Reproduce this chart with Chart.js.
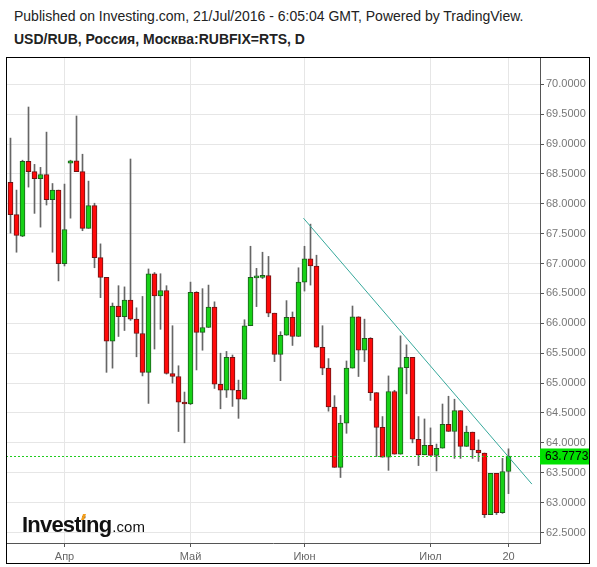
<!DOCTYPE html>
<html>
<head>
<meta charset="utf-8">
<script src="https://cdn.jsdelivr.net/npm/chart.js@4.4.1/dist/chart.umd.min.js"></script>
<style>
  html, body { margin: 0; padding: 0; background: #fff; }
  #wrap { position: relative; width: 597px; height: 567px; }
  .hdr { position: absolute; left: 14px; font-family: Arial, "Liberation Sans", sans-serif;
         font-size: 14px; color: #222; white-space: nowrap; }
  #h1 { top: 8px; }
  #h2 { top: 31px; font-weight: bold; }
  canvas { position: absolute; left: 0; top: 0; }
</style>
</head>
<body>
<div id="wrap">
  <div class="hdr" id="h1">Published on Investing.com, 21/Jul/2016 - 6:05:04 GMT, Powered by TradingView.</div>
  <div class="hdr" id="h2">USD/RUB, Россия, Москва:RUBFIX=RTS, D</div>
  <canvas id="c" width="597" height="567"></canvas>
</div>
<script>
// ── Данные: торговые дни 21 мар – 20 июл 2016 ───────────────────
const openP = [
  68.36, 67.82, 67.46, 68.71, 68.54, 68.42, 68.49, 68.07, 68.23, 67.00,
  68.68, 68.72, 68.54, 67.59, 67.97, 67.10, 66.77, 65.70, 66.29, 66.11,
  66.39, 66.07, 65.83, 65.18, 66.83, 66.46, 66.55, 65.16, 65.11, 64.68,
  64.65, 66.52, 65.85, 65.93, 66.27, 64.98, 64.88, 65.43, 64.88, 64.73,
  65.96, 66.76, 66.77, 66.80, 66.17, 65.48, 65.80, 66.10, 65.78, 66.69,
  67.08, 66.96, 65.60, 65.25, 64.60, 63.59, 64.33, 65.25, 66.11, 65.55,
  65.75, 64.84, 64.26, 63.76, 64.86, 63.81, 65.26, 65.43, 64.06, 63.80,
  63.96, 63.79, 63.91, 64.31, 64.19, 64.54, 63.94, 64.18, 63.88, 63.83,
  62.80, 63.49, 62.83, 63.52
];
const highP = [
  69.10, 68.23, 68.73, 69.62, 68.66, 68.61, 69.20, 68.34, 68.23, 68.33,
  68.73, 69.47, 68.83, 68.38, 68.01, 67.33, 66.77, 66.34, 66.63, 66.61,
  68.75, 66.26, 66.45, 66.91, 66.85, 66.83, 66.63, 65.96, 65.29, 64.85,
  66.69, 66.53, 66.58, 66.64, 66.36, 65.50, 65.53, 65.47, 65.05, 66.06,
  67.29, 66.92, 67.19, 67.12, 66.17, 65.86, 66.38, 66.19, 66.93, 67.29,
  67.66, 67.14, 65.96, 65.41, 64.79, 64.46, 65.37, 66.29, 66.11, 66.07,
  65.76, 64.84, 64.44, 65.12, 64.88, 65.79, 65.64, 65.43, 64.44, 64.40,
  64.25, 63.98, 64.65, 64.78, 64.73, 64.54, 64.28, 64.18, 64.05, 63.83,
  63.49, 63.49, 63.74, 63.90
];
const lowP = [
  67.51, 67.19, 67.45, 68.28, 67.84, 67.61, 67.98, 67.19, 66.71, 66.96,
  67.76, 68.54, 67.55, 67.59, 66.93, 66.43, 65.18, 65.25, 65.78, 65.88,
  66.05, 65.44, 65.12, 64.66, 65.57, 65.90, 65.15, 65.00, 64.19, 64.00,
  64.64, 65.22, 65.55, 65.93, 64.91, 64.57, 64.76, 64.61, 64.41, 64.73,
  65.96, 66.28, 66.75, 66.11, 65.36, 65.04, 65.80, 65.63, 65.78, 66.54,
  66.64, 65.60, 65.14, 64.53, 63.59, 63.42, 64.16, 65.25, 65.11, 65.36,
  64.71, 63.77, 63.76, 63.54, 63.81, 63.81, 64.82, 64.00, 63.62, 63.80,
  63.79, 63.53, 63.91, 64.19, 63.74, 63.74, 63.94, 63.74, 63.69, 62.75,
  62.80, 62.80, 62.82, 63.15
];
const closeP = [
  67.82, 67.47, 68.71, 68.54, 68.42, 68.49, 68.07, 68.23, 67.00, 67.57,
  68.72, 68.54, 67.59, 67.97, 67.10, 66.77, 65.70, 66.29, 66.11, 66.39,
  66.07, 65.83, 65.18, 66.83, 66.46, 66.55, 65.16, 65.11, 64.68, 64.65,
  66.52, 65.85, 65.93, 66.27, 64.98, 64.88, 65.43, 64.88, 64.73, 65.96,
  66.77, 66.77, 66.80, 66.17, 65.48, 65.80, 66.10, 65.78, 66.69, 67.08,
  66.96, 65.60, 65.25, 64.60, 63.59, 64.33, 65.25, 66.11, 65.55, 65.75,
  64.84, 64.26, 63.76, 64.86, 63.81, 65.26, 65.43, 64.06, 63.80, 63.96,
  63.79, 63.91, 64.31, 64.19, 64.54, 63.94, 64.18, 63.88, 63.83, 62.80,
  63.49, 62.83, 63.52, 63.7773
];

// подписи оси X (индекс торгового дня → текст)
const xTickIdx    = [9, 30, 49, 70, 83];
const xTickLabels = ["Апр", "Май", "Июн", "Июл", "20"];
const yTicks      = [62.5, 63, 63.5, 64, 64.5, 65, 65.5, 66, 66.5, 67, 67.5, 68, 68.5, 69, 69.5, 70];

// линия тренда (индекс дня, цена)
const trendX = [48.83, 86.9];
const trendY = [67.76, 63.31];

const lastPrice = closeP[closeP.length - 1];

// ── Цвета ────────────────────────────────────────────────────────
const UP_FILL   = "#17d117";
const UP_EDGE   = "#1d5e1d";
const DN_FILL   = "#ff0a0a";
const DN_EDGE   = "#6e1414";
const WICK      = "#666666";
const GRID      = "#e6e6e6";
const FONT      = "Arial, 'Liberation Sans', sans-serif";

const isUp   = closeP.map((c, i) => c >= openP[i]);
const bodies = closeP.map((c, i) => ({ x: i, y: [openP[i], c] }));
const wicks  = highP.map((h, i) => ({ x: i, y: [lowP[i], h] }));
const trend  = trendX.map((x, i) => ({ x, y: trendY[i] }));

// ── Плагин: рамка, логотип, текущая цена ────────────────────────
const decor = {
  id: "decor",
  beforeDatasetsDraw(chart) {
    const ctx = chart.ctx;
    ctx.save();
    ctx.fillStyle = "#111";
    ctx.textBaseline = "alphabetic";
    ctx.font = "bold 22px " + FONT;
    ctx.letterSpacing = "-0.8px";
    ctx.fillText("Investing", 22, 532);
    const w = ctx.measureText("Investing").width;
    ctx.letterSpacing = "0px";
    ctx.font = "15px " + FONT;
    ctx.fillText(".com", 22 + w + 1, 532);
    ctx.fillStyle = "#f29d1b";
    ctx.beginPath();
    ctx.moveTo(81, 520); ctx.lineTo(84, 520); ctx.lineTo(86, 514); ctx.lineTo(83, 514);
    ctx.closePath();
    ctx.fill();
    ctx.restore();
  },
  afterDatasetsDraw(chart) {
    const ctx = chart.ctx;
    const a = chart.chartArea;
    const y = Math.round(chart.scales.y.getPixelForValue(lastPrice)) + 0.5;
    ctx.save();
    ctx.strokeStyle = "#1fcc1f";
    ctx.lineWidth = 1;
    ctx.setLineDash([2, 2]);
    ctx.beginPath();
    ctx.moveTo(a.left, y);
    ctx.lineTo(a.right, y);
    ctx.stroke();
    ctx.setLineDash([]);
    ctx.fillStyle = "#00e000";
    ctx.fillRect(a.right, y - 8, 49, 16);
    ctx.fillStyle = "#000";
    ctx.font = "12px " + FONT;
    ctx.textBaseline = "middle";
    ctx.fillText(lastPrice.toFixed(4), a.right + 5, y + 0.5);
    // внешняя рамка
    ctx.strokeStyle = "#000";
    ctx.lineWidth = 1;
    ctx.strokeRect(6.5, 57.5, 583, 506);
    ctx.restore();
  }
};

new Chart(document.getElementById("c"), {
  type: "bar",
  data: {
    datasets: [
      {
        type: "line", data: trend, borderColor: "#36a89b", borderWidth: 1,
        pointRadius: 0, fill: false, order: 0,
      },
      {
        data: bodies, grouped: false, order: 1, barThickness: 5,
        backgroundColor: isUp.map(u => u ? UP_FILL : DN_FILL),
        borderColor: isUp.map(u => u ? UP_EDGE : DN_EDGE),
        borderWidth: 1, borderSkipped: false, minBarLength: 2,
      },
      {
        data: wicks, grouped: false, order: 2, barThickness: 1,
        backgroundColor: WICK, borderWidth: 0,
      },
    ]
  },
  options: {
    responsive: false,
    animation: false,
    layout: { padding: { left: 6, top: 57, right: 8, bottom: 4 } },
    plugins: { legend: { display: false }, tooltip: { enabled: false } },
    scales: {
      x: {
        type: "linear", min: -0.75, max: 88.25, offset: false,
        grid: { color: GRID, offset: false, tickLength: 4, tickColor: "#555" },
        border: { display: true, color: "#555" },
        afterBuildTicks: s => { s.ticks = xTickIdx.map(v => ({ value: v })); },
        afterFit: s => { s.height = 20; s.paddingLeft = 0; s.paddingRight = 0; },
        ticks: {
          autoSkip: false, maxRotation: 0, padding: 3, color: "#666",
          font: { family: FONT, size: 11 },
          callback: v => xTickLabels[xTickIdx.indexOf(v)],
        },
      },
      y: {
        position: "right", min: 62.324, max: 70.457,
        grid: { color: GRID, tickLength: 4, tickColor: "#555" },
        border: { display: true, color: "#555" },
        afterBuildTicks: s => { s.ticks = yTicks.map(v => ({ value: v })); },
        afterFit: s => { s.width = 49; s.paddingTop = 0; s.paddingBottom = 0; },
        ticks: {
          padding: 2, color: "#777",
          font: { family: FONT, size: 11 },
          callback: v => v.toFixed(4),
        },
      },
    }
  },
  plugins: [decor]
});
</script>
</body>
</html>
